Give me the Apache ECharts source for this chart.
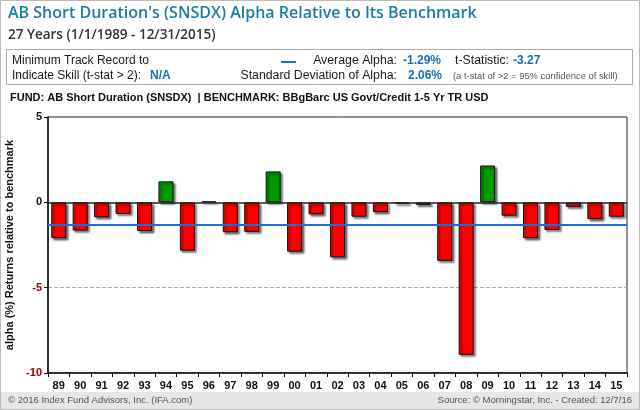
<!DOCTYPE html>
<html><head><meta charset="utf-8">
<script src="https://cdn.jsdelivr.net/npm/echarts@6/dist/echarts.min.js"></script>
<style>html,body{margin:0;padding:0;background:#fff}#c{width:640px;height:410px}</style>
</head><body><div id="c"></div>
<script>
const years = ['89','90','91','92','93','94','95','96','97','98','99','00','01','02','03','04','05','06','07','08','09','10','11','12','13','14','15'];
const alpha = [-2.10,-1.65,-0.88,-0.68,-1.68,1.23,-2.83,0.06,-1.75,-1.73,1.81,-2.89,-0.70,-3.22,-0.84,-0.57,-0.08,-0.15,-3.43,-8.93,2.16,-0.78,-2.10,-1.62,-0.26,-0.98,-0.84];
const avgAlpha = -1.29;
const yTicks = [-10,-5,0,5];

const chart = echarts.init(document.getElementById('c'));
const lbl = 'Liberation Sans, Arial, sans-serif';
const blue = '#1a6fb5';
chart.setOption({
  backgroundColor:'#fff',
  animation:false,
  grid:{left:48,right:13,top:117,bottom:37,show:true,borderColor:'#222',borderWidth:1,backgroundColor:'transparent',outerBoundsMode:'none',containLabel:false},
  xAxis:{type:'category',data:years,
    axisLine:{onZero:false,lineStyle:{color:'#111',width:1.5}},
    axisTick:{show:true,alignWithLabel:false,length:4,lineStyle:{color:'#111'}},
    axisLabel:{color:'#111',fontFamily:lbl,fontWeight:'bold',fontSize:11,margin:7}},
  yAxis:{type:'value',min:yTicks[0],max:yTicks[yTicks.length-1],interval:5,
    name:'alpha (%) Returns relative to benchmark',nameLocation:'middle',nameGap:30,nameRotate:90,
    nameTextStyle:{color:'#111',fontFamily:lbl,fontWeight:'bold',fontSize:11},
    axisLine:{show:true,lineStyle:{color:'#111',width:1.5}},
    axisTick:{show:true,length:4,lineStyle:{color:'#111'}},
    axisLabel:{fontFamily:lbl,fontWeight:'bold',fontSize:11,margin:6,
      color:function(v){return v<0?'#a00000':'#111';}},
    splitLine:{show:true,lineStyle:{color:['transparent','#aaa','transparent','transparent'],type:'dashed'}}},
  series:[
    {type:'line',data:[],z:1,silent:true,
      markLine:{symbol:'none',silent:true,label:{show:false},
        lineStyle:{color:'#1a6fd0',width:2,type:'solid'},data:[{yAxis:avgAlpha}]}},
    {type:'bar',data:alpha,barWidth:15,z:2,
      itemStyle:{borderColor:'#111',borderWidth:1,shadowColor:'rgba(0,0,0,0.55)',shadowBlur:2,shadowOffsetX:2,shadowOffsetY:2,
        color:function(p){return p.value>=0?'#009900':'#ff0000';}},
      markLine:{symbol:'none',silent:true,label:{show:false},z:5,
        lineStyle:{color:'#222',width:1.5,type:'solid'},data:[{yAxis:0}]}}
  ],
  graphic:[
    {type:'rect',shape:{x:0.5,y:0.5,width:639,height:409},style:{fill:'none',stroke:'#bbb',lineWidth:1},z:0},
    {type:'rect',shape:{x:1,y:392,width:638,height:17},style:{fill:'#e6e6e6'},z:0},
    {type:'text',left:8,top:5,style:{text:"AB Short Duration's (SNSDX) Alpha Relative to Its Benchmark",fill:'#1b7ca8',font:'600 16px "Open Sans", sans-serif'}},
    {type:'text',left:8,top:28,style:{text:'27 Years (1/1/1989 - 12/31/2015)',fill:'#333',font:'600 13.5px "Open Sans", sans-serif'}},
    {type:'rect',shape:{x:6.5,y:49.5,width:626,height:35},style:{fill:'none',stroke:'#aaa',lineWidth:1}},
    {type:'text',left:12,top:55,style:{text:'Minimum Track Record to',fill:'#1a1a1a',font:'12px '+lbl}},
    {type:'text',left:12,top:70,style:{text:'Indicate Skill (t-stat > 2):',fill:'#1a1a1a',font:'12px '+lbl}},
    {type:'text',left:150,top:70,style:{text:'N/A',fill:blue,font:'bold 12px '+lbl}},
    {type:'rect',shape:{x:281,y:61,width:15,height:2},style:{fill:'#1a6fd0'}},
    {type:'text',right:243,top:55,style:{text:'Average Alpha:',fill:'#1a1a1a',font:'12.3px '+lbl,textAlign:'right'}},
    {type:'text',left:403,top:55,style:{text:'-1.29%',fill:blue,font:'bold 12px '+lbl}},
    {type:'text',left:455,top:55,style:{text:'t-Statistic:',fill:'#1a1a1a',font:'12.3px '+lbl}},
    {type:'text',left:513,top:55,style:{text:'-3.27',fill:blue,font:'bold 12px '+lbl}},
    {type:'text',right:243,top:70,style:{text:'Standard Deviation of Alpha:',fill:'#1a1a1a',font:'12.3px '+lbl,textAlign:'right'}},
    {type:'text',left:408,top:70,style:{text:'2.06%',fill:blue,font:'bold 12px '+lbl}},
    {type:'text',left:453,top:72,style:{text:'(a t-stat of >2 = 95% confidence of skill)',fill:'#555',font:'9.4px '+lbl}},
    {type:'text',left:10,top:92,style:{text:'FUND: AB Short Duration (SNSDX)  | BENCHMARK: BBgBarc US Govt/Credit 1-5 Yr TR USD',fill:'#111',font:'bold 11px '+lbl}},
    {type:'text',left:8,top:395,style:{text:'\u00a9 2016 Index Fund Advisors, Inc. (IFA.com)',fill:'#555',font:'9.5px '+lbl}},
    {type:'text',right:8,top:395,style:{text:'Source: \u00a9 Morningstar, Inc. - Created: 12/7/16',fill:'#555',font:'9.5px '+lbl,textAlign:'right'}}
  ]
});
</script></body></html>
